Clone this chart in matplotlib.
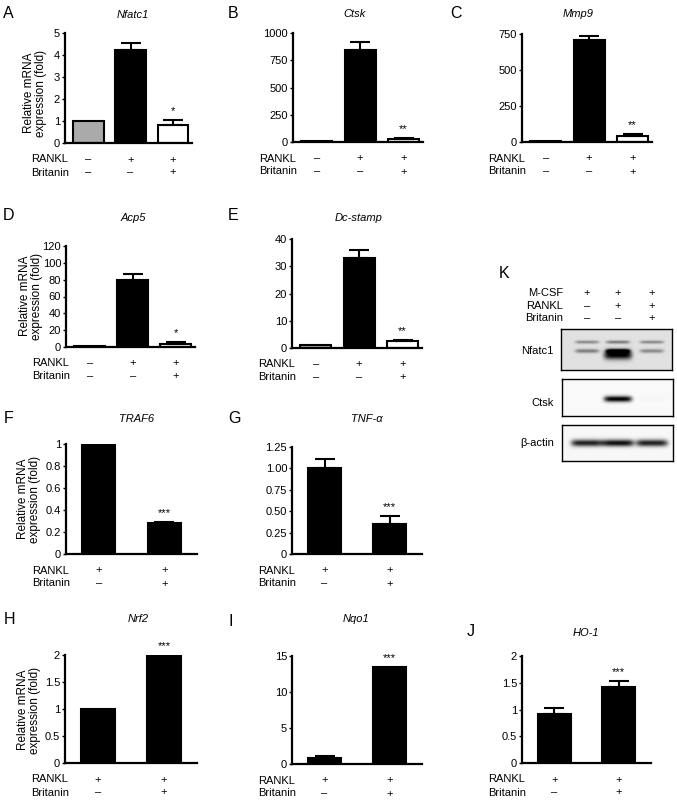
import numpy as np
import matplotlib
matplotlib.use("Agg")
import matplotlib.pyplot as plt

plt.rcParams['font.family'] = ['Liberation Sans', 'DejaVu Sans']

W, H = 677, 801

# treatment rows
rankl_3 = ['–', '+', '+']
brit_3 = ['–', '–', '+']
rankl_2 = ['+', '+']
brit_2 = ['–', '+']
colors_3 = ['#aaaaaa', 'black', 'white']
colors_2 = ['black', 'black']

# qPCR values (fold)
nfatc1 = [1.0, 4.25, 0.8]
nfatc1_err = [0, 0.28, 0.25]
ctsk = [6, 848, 30]
ctsk_err = [0, 70, 4]
mmp9 = [6, 705, 45]
mmp9_err = [0, 32, 12]
acp5 = [1, 80, 4]
acp5_err = [0, 6.5, 1.5]
dcstamp = [1.0, 33, 2.5]
dcstamp_err = [0, 3, 0.4]
traf6 = [1.0, 0.28]
traf6_err = [0, 0.008]
tnfa = [1.0, 0.355]
tnfa_err = [0.11, 0.085]
nrf2 = [1.0, 2.0]
nrf2_err = [0, 0]
nqo1 = [0.9, 13.5]
nqo1_err = [0.2, 0]
ho1 = [0.92, 1.42]
ho1_err = [0.1, 0.12]

stars_a = ['', '', '*']
stars_b = ['', '', '**']
stars_c = ['', '', '**']
stars_d = ['', '', '*']
stars_e = ['', '', '**']
stars_2 = ['', '***']

# western blot band intensities per lane
wb_mcsf = ['+', '+', '+']
wb_rankl = ['–', '+', '+']
wb_brit = ['–', '–', '+']
nfatc1_upper = [0.35, 0.42, 0.35]
nfatc1_lower = [0.40, 1.0, 0.35]
ctsk_band = [0.0, 1.0, 0.02]
actin_band = [0.85, 0.92, 0.85]

fig = plt.figure(figsize=(W / 100, H / 100), dpi=100)


def px_axes(x0, x1, y0, y1):
    return fig.add_axes([x0 / W, 1 - y1 / H, (x1 - x0) / W, (y1 - y0) / H])


def ftext(x, y, s, **kw):
    fig.text(x / W, 1 - y / H, s, **kw)


def bar_panel(box, means, errs, colors, ticks, labels, stars, rankl, brit,
              width, xlim):
    ax = px_axes(*box)
    x = np.arange(len(means))
    means = np.asarray(means, float)
    errs = np.asarray(errs, float)
    ax.bar(x, means, width=width, color=colors, edgecolor='black',
           linewidth=1.5, zorder=2)
    m = errs > 0
    if m.any():
        ax.errorbar(x[m], means[m], yerr=[np.zeros(m.sum()), errs[m]],
                    fmt='none', ecolor='black', elinewidth=1.5, capsize=7,
                    capthick=1.5, zorder=3, clip_on=False)
    ax.set_xlim(*xlim)
    ax.set_ylim(0, ticks[-1])
    ax.set_yticks(ticks)
    ax.set_yticklabels(labels)
    for s in ['top', 'right']:
        ax.spines[s].set_visible(False)
    for s in ['left', 'bottom']:
        ax.spines[s].set_linewidth(1.6)
    ax.tick_params(axis='y', length=2.5, width=1, pad=1, labelsize=8)
    ax.tick_params(axis='x', length=0, labelbottom=False)
    for xi, mu, e, s in zip(x, means, errs, stars):
        if s:
            ax.annotate(s, (xi, mu + e), xytext=(0, 4),
                        textcoords='offset pixels', ha='center',
                        va='bottom', fontsize=8, annotation_clip=False)
    for xi, r, b in zip(x, rankl, brit):
        ax.annotate(r, (xi, 0), xycoords=('data', 'axes fraction'),
                    xytext=(0, -16.5), textcoords='offset pixels',
                    ha='center', va='center', fontsize=8)
        ax.annotate(b, (xi, 0), xycoords=('data', 'axes fraction'),
                    xytext=(0, -29.5), textcoords='offset pixels',
                    ha='center', va='center', fontsize=8)
    ax.annotate('RANKL', (0, 0), xycoords='axes fraction', xytext=(-34, -16.5),
                textcoords='offset pixels', ha='left', va='center', fontsize=8)
    ax.annotate('Britanin', (0, 0), xycoords='axes fraction',
                xytext=(-34, -29.5), textcoords='offset pixels', ha='left',
                va='center', fontsize=8)
    return ax


X3 = dict(width=0.72, xlim=(-0.55, 2.45))
X2 = dict(width=0.51, xlim=(-0.5, 1.5))

bar_panel((65, 192, 33, 143), nfatc1, nfatc1_err, colors_3,
          [0, 1, 2, 3, 4, 5], ['0', '1', '2', '3', '4', '5'], stars_a,
          rankl_3, brit_3, **X3)
bar_panel((293, 423, 33, 142), ctsk, ctsk_err, colors_3,
          [0, 250, 500, 750, 1000], ['0', '250', '500', '750', '1000'],
          stars_b, rankl_3, brit_3, **X3)
bar_panel((522, 652, 34, 142), mmp9, mmp9_err, colors_3,
          [0, 250, 500, 750], ['0', '250', '500', '750'], stars_c,
          rankl_3, brit_3, **X3)
bar_panel((66, 195, 246, 347), acp5, acp5_err, colors_3,
          [0, 20, 40, 60, 80, 100, 120],
          ['0', '20', '40', '60', '80', '100', '120'], stars_d,
          rankl_3, brit_3, **X3)
bar_panel((292, 422, 239, 348), dcstamp, dcstamp_err, colors_3,
          [0, 10, 20, 30, 40], ['0', '10', '20', '30', '40'], stars_e,
          rankl_3, brit_3, **X3)
bar_panel((66, 197, 444, 554), traf6, traf6_err, colors_2,
          [0, 0.2, 0.4, 0.6, 0.8, 1.0], ['0', '0.2', '0.4', '0.6', '0.8', '1'],
          stars_2, rankl_2, brit_2, **X2)
bar_panel((292, 422, 447, 554), tnfa, tnfa_err, colors_2,
          [0, 0.25, 0.5, 0.75, 1.0, 1.25],
          ['0', '0.25', '0.50', '0.75', '1.00', '1.25'],
          stars_2, rankl_2, brit_2, **X2)
bar_panel((65, 197, 655, 763), nrf2, nrf2_err, colors_2,
          [0, 0.5, 1, 1.5, 2], ['0', '0.5', '1', '1.5', '2'],
          stars_2, rankl_2, brit_2, **X2)
bar_panel((292, 422, 656, 764), nqo1, nqo1_err, colors_2,
          [0, 5, 10, 15], ['0', '5', '10', '15'],
          stars_2, rankl_2, brit_2, **X2)
bar_panel((522, 651, 656, 763), ho1, ho1_err, colors_2,
          [0, 0.5, 1, 1.5, 2], ['0', '0.5', '1', '1.5', '2'],
          stars_2, rankl_2, brit_2, **X2)

# titles
for (x, y, s) in [(133, 15, 'Nfatc1'), (355, 14, 'Ctsk'), (578, 14, 'Mmp9'),
                  (133, 218, 'Acp5'), (359, 218, 'Dc-stamp'),
                  (137, 419, 'TRAF6'), (367, 419, 'TNF-α'),
                  (138, 619, 'Nrf2'), (356, 619, 'Nqo1'), (586, 633, 'HO-1')]:
    ftext(x, y, s, ha='center', va='center', fontsize=8, style='italic')

# panel letters
for (x, y, s) in [(3, 13, 'A'), (228, 13, 'B'), (450, 13, 'C'),
                  (3, 216, 'D'), (228, 215, 'E'), (499, 274, 'K'),
                  (4, 418, 'F'), (228, 418, 'G'), (4, 619, 'H'),
                  (229, 621, 'I'), (467, 632, 'J')]:
    ftext(x, y, s, ha='left', va='center', fontsize=11.5)

# y labels
for (x, y) in [(35, 93), (31, 296), (29, 499), (29, 710)]:
    ftext(x, y, 'Relative mRNA\nexpression (fold)', ha='center', va='center',
          rotation=90, fontsize=8.5, linespacing=1.05)

# western blot
lane_x = [587, 618, 652]
for y, name, row in [(293, 'M-CSF', wb_mcsf), (306, 'RANKL', wb_rankl),
                     (318, 'Britanin', wb_brit)]:
    ftext(563, y, name, ha='right', va='center', fontsize=8)
    for lx, s in zip(lane_x, row):
        ftext(lx, y, s, ha='center', va='center', fontsize=8)


def blot(box, label, label_y, bands, bg):
    ax = px_axes(*box)
    x0, x1, y0, y1 = box
    nx, ny = (x1 - x0) * 2, (y1 - y0) * 2
    xs = np.linspace(x0, x1, nx)
    ys = np.linspace(y0, y1, ny)
    X, Y = np.meshgrid(xs, ys)
    img = np.full_like(X, bg)
    for yc, sy, hw, vals in bands:
        for lx, v in zip(lane_x, vals):
            img += v * np.exp(-((X - lx) / hw) ** 6) * np.exp(-((Y - yc) / sy) ** 2)
    ax.imshow(np.clip(img, 0, 1), cmap='gray_r', vmin=0, vmax=1,
              extent=[x0, x1, y1, y0], aspect='auto', interpolation='bilinear')
    ax.set_xlim(x0, x1)
    ax.set_ylim(y1, y0)
    ax.set_xticks([])
    ax.set_yticks([])
    for s in ax.spines.values():
        s.set_linewidth(1.0)
    ftext(554, label_y, label, ha='right', va='center', fontsize=8)


blot((561, 672, 329, 370), 'Nfatc1', 351,
     [(342, 1.6, 12, nfatc1_upper), (351, 2.0, 12, nfatc1_lower),
      (355, 4.5, 14, [0, 0.9, 0])], 0.12)
blot((562, 673, 379, 416), 'Ctsk', 403,
     [(399, 3.0, 14, ctsk_band)], 0.02)
blot((562, 673, 425, 461), 'β-actin', 443,
     [(443, 3.5, 16, actin_band)], 0.03)

fig.savefig('out.png', dpi=100)
